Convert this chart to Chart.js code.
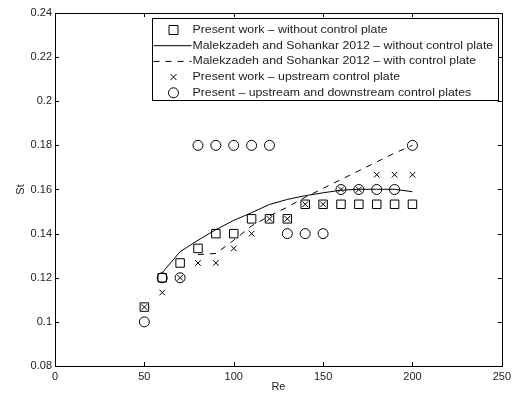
<!DOCTYPE html>
<html>
<head>
<meta charset="utf-8">
<script src="https://cdn.jsdelivr.net/npm/chart.js@4.4.0/dist/chart.umd.min.js"></script>
<style>
  html, body { margin: 0; padding: 0; background: #fff; }
  canvas { display: block; }
</style>
</head>
<body>
<canvas id="stChart" width="515" height="396"></canvas>
<script>
// Re values of the present runs
const re = [50, 60, 70, 80, 90, 100, 110, 120, 130, 140, 150, 160, 170, 180, 190, 200];
// St, present work without control plate (squares)
const stNoPlate = [0.1067, 0.12, 0.1267, 0.1333, 0.14, 0.14, 0.1467, 0.1467, 0.1467, 0.1533, 0.1533, 0.1533, 0.1533, 0.1533, 0.1533, 0.1533];
// St, present work with upstream plate (x)
const stUpstream = [0.1067, 0.1133, 0.12, 0.1267, 0.1267, 0.1333, 0.14, 0.1467, 0.1467, 0.1533, 0.1533, 0.16, 0.16, 0.1667, 0.1667, 0.1667];
// St, upstream + downstream plates (circles)
const stBoth = [0.1, 0.12, 0.12, 0.18, 0.18, 0.18, 0.18, 0.18, 0.14, 0.14, 0.14, 0.16, 0.16, 0.16, 0.16, 0.18];

// Malekzadeh and Sohankar 2012
const mkReNoPlate = [60, 70, 80, 90, 100, 110, 120, 130, 140, 150, 160, 170, 180, 190, 200];
const mkNoPlate = [0.1223, 0.1318, 0.137, 0.1418, 0.146, 0.1495, 0.1532, 0.1555, 0.1572, 0.1585, 0.1597, 0.1601, 0.1601, 0.1601, 0.159];
const mkRePlate = [80, 90, 100, 110, 120, 130, 140, 150, 160, 170, 180, 190, 200];
const mkPlate = [0.1305, 0.131, 0.137, 0.1435, 0.148, 0.152, 0.1565, 0.1605, 0.1645, 0.1685, 0.1725, 0.1765, 0.18];

const xTicks = [0, 50, 100, 150, 200, 250];
const xTickLabels = ["0", "50", "100", "150", "200", "250"];
const yTicks = [0.08, 0.1, 0.12, 0.14, 0.16, 0.18, 0.2, 0.22, 0.24];
const yTickLabels = ["0.08", "0.1", "0.12", "0.14", "0.16", "0.18", "0.2", "0.22", "0.24"];

const pts = (xs, ys) => xs.map((x, i) => ({ x: x, y: ys[i] }));

Chart.defaults.font.family = "'Liberation Sans', Arial, Helvetica, sans-serif";
Chart.defaults.font.size = 11;
Chart.defaults.color = "#222";

// matlab style box: frame + inward ticks on all four sides, legend inside
const matlabBox = {
  id: "matlabBox",
  afterDraw(chart) {
    const ctx = chart.ctx;
    const a = chart.chartArea;
    const xs = chart.scales.x, ys = chart.scales.y;
    const tl = 4;
    ctx.save();
    ctx.strokeStyle = "#000";
    ctx.lineWidth = 1;
    ctx.beginPath();
    xs.ticks.forEach(t => {
      const px = Math.round(xs.getPixelForValue(t.value)) + 0.5;
      ctx.moveTo(px, a.bottom); ctx.lineTo(px, a.bottom - tl);
      ctx.moveTo(px, a.top); ctx.lineTo(px, a.top + tl);
    });
    ys.ticks.forEach(t => {
      const py = Math.round(ys.getPixelForValue(t.value)) + 0.5;
      ctx.moveTo(a.left, py); ctx.lineTo(a.left + tl, py);
      ctx.moveTo(a.right, py); ctx.lineTo(a.right - tl, py);
    });
    ctx.stroke();
    ctx.strokeRect(Math.round(a.left) + 0.5, Math.round(a.top) + 0.5, Math.round(a.right - a.left), Math.round(a.bottom - a.top));

    // legend
    const bx = Math.round(a.right - 350) + 0.5, by = Math.round(a.top + 5) + 0.5;
    const bw = 346, bh = 82;
    ctx.fillStyle = "#fff";
    ctx.fillRect(bx, by, bw, bh);
    ctx.strokeRect(bx, by, bw, bh);
    ctx.font = "11px 'Liberation Sans', Arial, Helvetica, sans-serif";
    ctx.textBaseline = "middle";
    const stretch = 1.12; // legend text in the original is a bit wider
    chart.data.datasets.forEach((ds, i) => {
      const cy = by + 11.5 + i * 15.7;
      const mx = bx + 21;
      ctx.strokeStyle = "#000";
      ctx.lineWidth = 1;
      ctx.beginPath();
      if (ds.showLine) {
        ctx.setLineDash(ds.borderDash || []);
        ctx.moveTo(bx + 1, cy); ctx.lineTo(bx + 39, cy);
        ctx.stroke();
        ctx.setLineDash([]);
      } else if (ds.pointStyle === "rect") {
        ctx.rect(mx - 4.5, cy - 4.5, 9, 9);
        ctx.stroke();
      } else if (ds.pointStyle === "crossRot") {
        ctx.moveTo(mx - 3, cy - 3); ctx.lineTo(mx + 3, cy + 3);
        ctx.moveTo(mx - 3, cy + 3); ctx.lineTo(mx + 3, cy - 3);
        ctx.stroke();
      } else {
        ctx.arc(mx, cy, 5, 0, Math.PI * 2);
        ctx.stroke();
      }
      ctx.save();
      ctx.translate(bx + 40, cy);
      ctx.scale(stretch, 1);
      ctx.fillStyle = "#222";
      ctx.fillText(ds.label, 0, 0);
      ctx.restore();
    });
    ctx.restore();
  }
};

const ctx = document.getElementById("stChart").getContext("2d");

let chart = new Chart(ctx, {
  type: "scatter",
  data: {
    datasets: [{
      label: "Present work \u2013 without control plate",
      data: pts(re, stNoPlate),
      pointStyle: "rect",
      pointRadius: 6,
      borderColor: "#000",
      backgroundColor: "rgba(0,0,0,0)",
      borderWidth: 1
    }, {
      label: "Malekzadeh and Sohankar 2012 \u2013 without control plate",
      data: pts(mkReNoPlate, mkNoPlate),
      showLine: true,
      pointRadius: 0,
      borderColor: "#000",
      borderWidth: 1,
      tension: 0
    }, {
      label: "Malekzadeh and Sohankar 2012 \u2013 with control plate",
      data: pts(mkRePlate, mkPlate),
      showLine: true,
      pointRadius: 0,
      borderColor: "#000",
      borderWidth: 1,
      borderDash: [6, 6],
      tension: 0
    }, {
      label: "Present work \u2013 upstream control plate",
      data: pts(re, stUpstream),
      pointStyle: "crossRot",
      pointRadius: 4,
      borderColor: "#000",
      backgroundColor: "rgba(0,0,0,0)",
      borderWidth: 1
    }, {
      label: "Present \u2013 upstream and downstream control plates",
      data: pts(re, stBoth),
      pointStyle: "circle",
      pointRadius: 5,
      borderColor: "#000",
      backgroundColor: "rgba(0,0,0,0)",
      borderWidth: 1
    }]
  },
  options: {
    responsive: false,
    animation: false,
    events: [],
    layout: { padding: { left: 0, right: 10, top: 13, bottom: 0 } },
    plugins: {
      legend: { display: false },
      tooltip: { enabled: false }
    },
    scales: {
      x: {
        type: "linear",
        min: 0,
        max: 250,
        afterBuildTicks: s => { s.ticks = xTicks.map(v => ({ value: v })); },
        afterFit: s => { s.height = 30; },
        grid: { display: false, drawTicks: false },
        border: { display: false },
        ticks: { padding: 4, callback: (v, i) => xTickLabels[i], maxRotation: 0 },
        title: { display: true, text: "Re", padding: { top: 0, bottom: 2 } }
      },
      y: {
        type: "linear",
        min: 0.08,
        max: 0.24,
        afterBuildTicks: s => { s.ticks = yTicks.map(v => ({ value: v })); },
        afterFit: s => { s.width = 55; },
        grid: { display: false, drawTicks: false },
        border: { display: false },
        ticks: { padding: 3, callback: (v, i) => yTickLabels[i] },
        title: { display: true, text: "St", padding: { top: 14, bottom: 0 } }
      }
    }
  },
  plugins: [matlabBox]
});
</script>
</body>
</html>
